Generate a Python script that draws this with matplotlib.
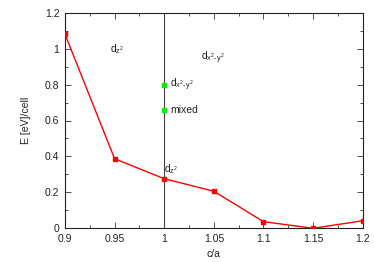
import matplotlib
matplotlib.use("Agg")
import matplotlib.pyplot as plt
from matplotlib.ticker import MultipleLocator

plt.rcParams['font.family'] = ['Liberation Sans', 'DejaVu Sans']
plt.rcParams['mathtext.fontset'] = 'custom'
plt.rcParams['mathtext.rm'] = 'Liberation Sans'
plt.rcParams['mathtext.it'] = 'Liberation Sans'

ca = [0.9, 0.95, 1.0, 1.05, 1.1, 1.15, 1.2]
energy = [1.08, 0.387, 0.276, 0.206, 0.037, 0.0, 0.042]
green_x = [1.0, 1.0]
green_y = [0.8, 0.657]
xtick_labels = ['0.9', '0.95', '1', '1.05', '1.1', '1.15', '1.2']
yticks = [0, 0.2, 0.4, 0.6, 0.8, 1.0, 1.2]
ytick_labels = ['0', '0.2', '0.4', '0.6', '0.8', '1', '1.2']

fig = plt.figure(figsize=(3.74, 2.62), dpi=100)
ax = fig.add_axes([65/374, 1-228.3/262, (362.7-65)/374, (228.3-12.7)/262])

ax.axvline(1.0, color='#444444', lw=0.8)
ax.plot(ca, energy, color='red', lw=1.0, marker='s', ms=2.6, zorder=3)
ax.plot(green_x, green_y, ls='none', marker='s', ms=2.2, color='#00ee00', zorder=3)

ax.set_xlim(0.9, 1.2)
ax.set_ylim(0, 1.2)
ax.xaxis.set_minor_locator(MultipleLocator(0.025))
ax.yaxis.set_minor_locator(MultipleLocator(0.1))
ax.set_xticks(ca)
ax.set_xticklabels(xtick_labels)
ax.set_yticks(yticks)
ax.set_yticklabels(ytick_labels)
ax.tick_params(which='both', direction='in', top=True, right=True, labelsize=7.5, width=0.6, colors='#333333', labelcolor='#222222')
ax.tick_params(which='major', length=4, pad=4)
ax.tick_params(which='minor', length=2)
for s in ax.spines.values():
    s.set_linewidth(0.8)
    s.set_color('#222222')

fs = 7.5
ax.text(0.953, 1.0, r'd$_{z^2}$', fontsize=fs, ha='center', va='center', color='#222222')
ax.text(1.049, 0.95, r'd$_{x^2\text{-}y^2}$', fontsize=fs, ha='center', va='center', color='#222222')
ax.text(1.006, 0.8, r'd$_{x^2\text{-}y^2}$', fontsize=fs, ha='left', va='center', color='#222222')
ax.text(1.006, 0.657, 'mixed', fontsize=fs, ha='left', va='center', color='#222222')
ax.text(1.0, 0.33, r'd$_{z^2}$', fontsize=fs, ha='left', va='center', color='#222222')

ax.set_xlabel('c/a', fontsize=7.5, labelpad=4, color='#222222')
ax.set_ylabel('E [eV]/cell', fontsize=7.5, labelpad=10, color='#222222')

fig.savefig('out.png', dpi=100)
